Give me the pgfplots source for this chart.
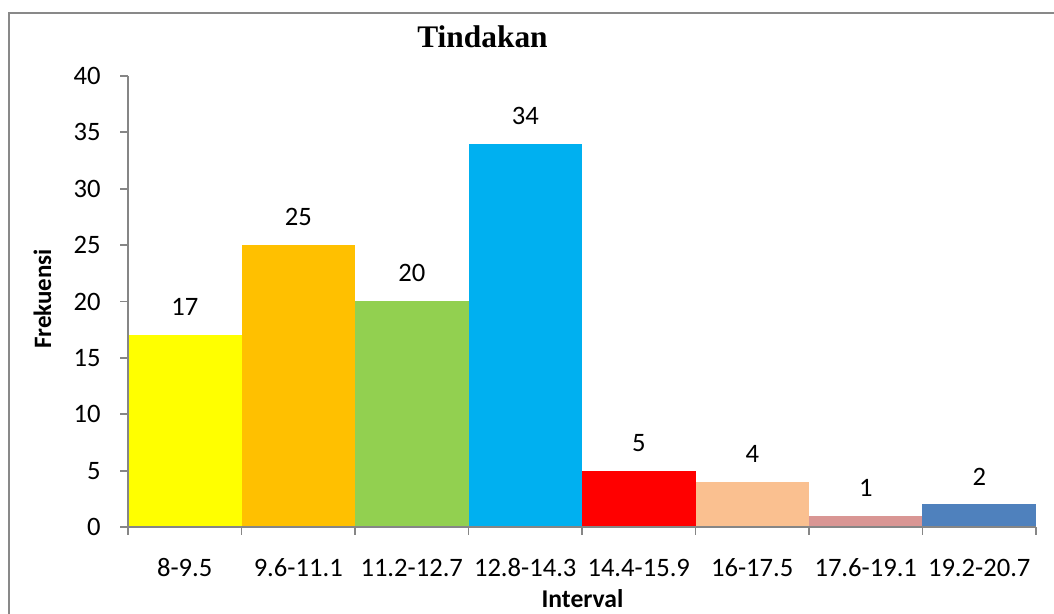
\documentclass[border=0pt]{standalone}
\usepackage{pgfplots}
\pgfplotsset{compat=1.18}
\usepackage{fontspec}
\setmainfont{Carlito}
\newfontfamily\tnr{Liberation Serif}
\definecolor{axgray}{HTML}{868686}
\definecolor{frgray}{HTML}{898989}
\definecolor{c1}{HTML}{FFFF00}
\definecolor{c2}{HTML}{FFC000}
\definecolor{c3}{HTML}{92D050}
\definecolor{c4}{HTML}{00B0F0}
\definecolor{c5}{HTML}{FF0000}
\definecolor{c6}{HTML}{FAC090}
\definecolor{c7}{HTML}{D99694}
\definecolor{c8}{HTML}{4F81BD}
\begin{document}
\begin{tikzpicture}
\useasboundingbox (0pt,0pt) rectangle (527pt,307pt);
\draw[frgray, line width=1pt] (4.5pt,-20pt) -- (4.5pt,300.5pt) -- (560pt,300.5pt);
\begin{axis}[
  at={(64pt,43.5pt)}, anchor=south west,
  scale only axis, width=454pt, height=225.5pt,
  xmin=0, xmax=8, ymin=0, ymax=40,
  ytick={0,5,...,40},
  xtick={0,...,8}, xticklabels={},
  extra x ticks={0.5,1.5,...,7.5},
  extra x tick labels={8-9.5,9.6-11.1,11.2-12.7,12.8-14.3,14.4-15.9,16-17.5,17.6-19.1,19.2-20.7},
  extra x tick style={tick style={draw=none}, xticklabel style={anchor=base, inner sep=0pt, yshift=-21pt}},
  axis x line*=bottom, axis y line*=left,
  axis line style={draw=axgray, line width=0.9pt},
  tick style={draw=axgray, line width=0.9pt},
  tick align=outside, major tick length=4pt,
  /pgf/number format/assume math mode=true,
  ticklabel style={font=\fontsize{13.3}{15}\selectfont},
  yticklabel style={anchor=east, inner sep=0pt, xshift=-9.5pt},
  axis on top,
  every axis plot/.append style={ybar, bar width=1, bar shift=0pt, draw=none,
    nodes near coords, nodes near coords style={font=\fontsize{13.3}{15}\selectfont, anchor=south, inner sep=0pt, yshift=9.5pt, text=black}},
]
\addplot[fill=c1] coordinates {(0.5,17)};
\addplot[fill=c2] coordinates {(1.5,25)};
\addplot[fill=c3] coordinates {(2.5,20)};
\addplot[fill=c4] coordinates {(3.5,34)};
\addplot[fill=c5] coordinates {(4.5,5)};
\addplot[fill=c6] coordinates {(5.5,4)};
\addplot[fill=c7] coordinates {(6.5,1)};
\addplot[fill=c8] coordinates {(7.5,2)};
\end{axis}
\node[anchor=base, inner sep=0pt, font=\tnr\bfseries\fontsize{15.7}{18}\selectfont] at (241.25pt,283pt) {Tindakan};
\node[anchor=base, inner sep=0pt, rotate=90, font=\bfseries\fontsize{12.5}{14}\selectfont] at (25.5pt,157.5pt) {Frekuensi};
\node[anchor=base, inner sep=0pt, font=\bfseries\fontsize{12.8}{14}\selectfont] at (291.25pt,3pt) {Interval};
\end{tikzpicture}
\end{document}
